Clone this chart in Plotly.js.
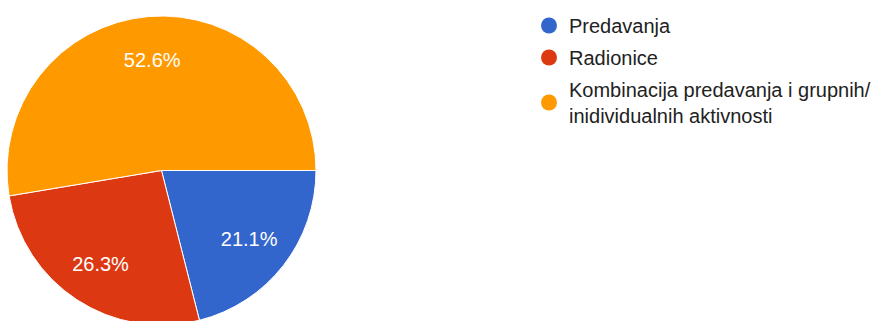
<!DOCTYPE html>
<html>
<head>
<meta charset="utf-8">
<script src="https://cdn.plot.ly/plotly-3.0.1.min.js"></script>
<style>
html,body{margin:0;padding:0;background:#fff;overflow:hidden;width:879px;height:321px;}
#chart{width:879px;height:340px;}
</style>
</head>
<body>
<div id="chart"></div>
<script>
const categories = ["Predavanja", "Radionice", "Kombinacija predavanja i grupnih/<br>inidividualnih aktivnosti"];
const counts = [4, 5, 10];
const colors = ["#3366cc", "#dc3912", "#ff9900"];

const H = 340, W = 879;
const FONT = "Arial, 'Liberation Sans', sans-serif";
const pieDomain = {x: [7/W, 316/W], y: [(H-325)/H, (H-16)/H]};

// coloured slices
const pie = {
  type: "pie",
  values: counts,
  labels: categories,
  sort: false,
  direction: "clockwise",
  rotation: 90,
  marker: {colors: colors, line: {color: "#ffffff", width: 1}},
  textinfo: "none",
  hoverinfo: "label+percent",
  showlegend: false,
  domain: pieDomain
};

// transparent overlay carrying the percentage labels (ring places them further out)
const pieLabels = {
  type: "pie",
  values: counts,
  labels: categories,
  sort: false,
  direction: "clockwise",
  rotation: 90,
  hole: 0.44,
  marker: {colors: colors.map(() => "rgba(0,0,0,0)"), line: {width: 0}},
  texttemplate: "%{percent:.1%}",
  textposition: "inside",
  insidetextorientation: "horizontal",
  textfont: {family: FONT, size: 20, color: "#ffffff"},
  hoverinfo: "skip",
  showlegend: false,
  domain: pieDomain
};

const legendTraces = categories.map((c, i) => ({
  type: "scatter",
  mode: "markers",
  x: [null], y: [null],
  name: c,
  legendgroup: "g" + i,
  marker: {color: colors[i], size: 16, symbol: "circle"},
  showlegend: true,
  hoverinfo: "skip"
}));

const layout = {
  width: W, height: H,
  margin: {l: 0, r: 0, t: 0, b: 0},
  paper_bgcolor: "#ffffff",
  plot_bgcolor: "#ffffff",
  xaxis: {visible: false},
  yaxis: {visible: false},
  showlegend: true,
  legend: {
    x: 529/W, xanchor: "left",
    y: (H-6)/H, yanchor: "top",
    font: {family: FONT, size: 20, color: "#222222"},
    tracegroupgap: 3,
    itemsizing: "trace",
    bgcolor: "rgba(0,0,0,0)"
  }
};

Plotly.newPlot("chart", [pie, pieLabels].concat(legendTraces), layout, {displayModeBar: false, staticPlot: true});
</script>
</body>
</html>
